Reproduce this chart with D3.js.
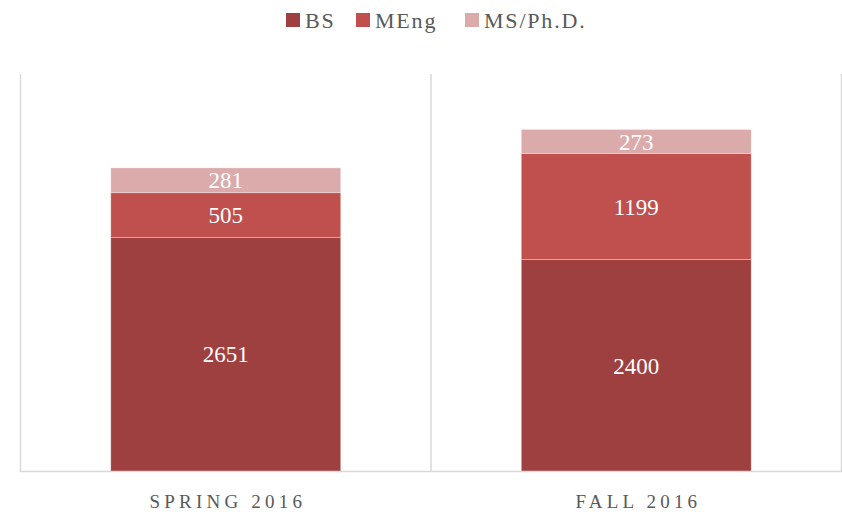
<!DOCTYPE html>
<html>
<head>
<meta charset="utf-8">
<script src="https://cdn.jsdelivr.net/npm/d3@7"></script>
<style>
  body { margin: 0; background: #fff; }
  svg { display: block; }
  text { font-family: "Palatino Linotype", "Book Antiqua", Palatino, "Liberation Serif", serif; }
</style>
</head>
<body>
<script>
(function () {
  "use strict";

  var terms = ["SPRING 2016", "FALL 2016"],
    degrees = ["BS", "MEng", "MS/Ph.D."],
    bsValues = [2651, 2400],
    mengValues = [505, 1199],
    msValues = [281, 273],
    colors = ["#9e403f", "#c0504d", "#dbabab"];

  var width = 842, height = 512,
    left = 20.5, right = 841.5, top = 74, bottom = 471.5;

  var rows = terms.map(function (t, i) {
    return { term: t, "BS": bsValues[i], "MEng": mengValues[i], "MS/Ph.D.": msValues[i] };
  });
  var series = d3.stack().keys(degrees)(rows);

  var x = d3.scaleBand().domain(terms).range([left, right]).paddingInner(0).paddingOuter(0);
  var barW = x.bandwidth() * 0.56;
  var y = d3.scaleLinear().domain([0, 4500]).range([bottom, top]);

  var svg = d3.select("body").append("svg")
    .attr("width", width)
    .attr("height", height);

  // separators between categories
  var edges = [left, x(terms[1]), right];
  svg.selectAll(".sep")
    .data(edges)
    .enter().append("line")
    .attr("x1", function (d) { return d; })
    .attr("x2", function (d) { return d; })
    .attr("y1", top)
    .attr("y2", bottom)
    .attr("stroke", "#d9d9d9")
    .attr("stroke-width", 1.5);

  var layer = svg.selectAll(".layer")
    .data(series)
    .enter().append("g")
    .attr("fill", function (d, i) { return colors[i]; });

  layer.selectAll("rect")
    .data(function (d) { return d; })
    .enter().append("rect")
    .attr("x", function (d) { return x(d.data.term) + (x.bandwidth() - barW) / 2; })
    .attr("width", barW)
    .attr("y", function (d) { return y(d[1]); })
    .attr("height", function (d) { return y(d[0]) - y(d[1]); })
    .attr("stroke", "rgba(255,255,255,0.35)")
    .attr("stroke-width", 0.8);

  layer.selectAll("text")
    .data(function (d) { return d; })
    .enter().append("text")
    .attr("x", function (d) { return x(d.data.term) + x.bandwidth() / 2; })
    .attr("y", function (d) { return (y(d[0]) + y(d[1])) / 2; })
    .attr("dy", "0.35em")
    .attr("text-anchor", "middle")
    .attr("fill", "#fff")
    .attr("font-size", 23)
    .text(function (d) { return d[1] - d[0]; });

  // baseline
  svg.append("line")
    .attr("x1", left - 0.75).attr("x2", right + 0.75)
    .attr("y1", bottom).attr("y2", bottom)
    .attr("stroke", "#d9d9d9")
    .attr("stroke-width", 1.5);

  // category labels
  svg.selectAll(".cat")
    .data(terms)
    .enter().append("text")
    .attr("x", function (d) { return x(d) + x.bandwidth() / 2 + 2.1; })
    .attr("y", 508)
    .attr("text-anchor", "middle")
    .attr("fill", "#595959")
    .attr("font-size", 19)
    .attr("letter-spacing", 4.2)
    .text(function (d) { return d; });

  // legend
  var legendX = [286, 356, 465];
  var lg = svg.selectAll(".legend")
    .data(degrees)
    .enter().append("g")
    .attr("transform", function (d, i) { return "translate(" + legendX[i] + ",0)"; });
  lg.append("rect")
    .attr("x", 0).attr("y", 13)
    .attr("width", 14).attr("height", 14)
    .attr("fill", function (d, i) { return colors[i]; });
  lg.append("text")
    .attr("x", 19).attr("y", 28)
    .attr("fill", "#595959")
    .attr("font-size", 22)
    .attr("letter-spacing", 1.8)
    .text(function (d) { return d; });
})();
</script>
</body>
</html>
